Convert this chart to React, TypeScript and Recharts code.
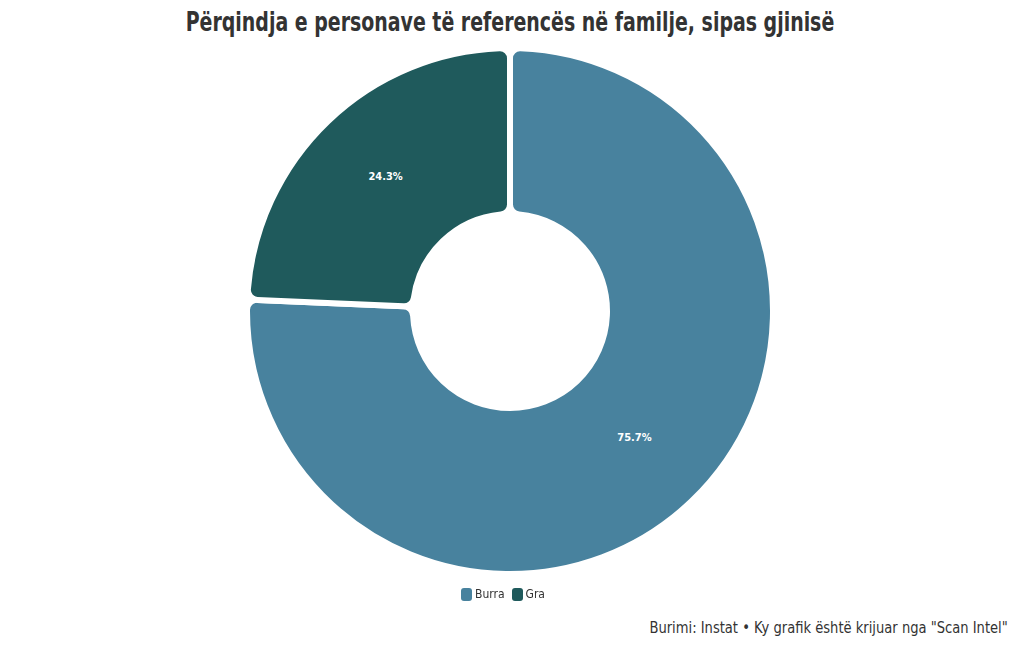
import React from "react";
import { PieChart, Pie, Cell } from "recharts";

const categories = ["Burra", "Gra"];
const values = [75.7, 24.3];
const colors = ["#48829E", "#1F5A5C"];
const titleText = "Përqindja e personave të referencës në familje, sipas gjinisë";
const footerText = 'Burimi: Instat • Ky grafik është krijuar nga "Scan Intel"';

const data = categories.map((name, i) => ({ name, value: values[i] }));

const FONT = '"DejaVu Sans Condensed", "Roboto", sans-serif';
const RAD = Math.PI / 180;

const renderLabel = (props: any) => {
  const { cx, cy, midAngle, innerRadius, outerRadius, value } = props;
  const r = (innerRadius + outerRadius) / 2;
  const x = cx + r * Math.cos(-midAngle * RAD);
  const y = cy + r * Math.sin(-midAngle * RAD) - 4;
  return (
    <text x={x} y={y} fill="#ffffff" textAnchor="middle" dominantBaseline="central"
      fontFamily={FONT} fontSize={11} fontWeight="bold">
      {value.toFixed(1)}%
    </text>
  );
};

export default function App() {
  return (
    <div style={{ position: "fixed", left: 0, top: 0, width: 1020, height: 650, background: "#fff", fontFamily: FONT }}>
      <div style={{ position: "absolute", top: 6, left: 0, width: 1020, textAlign: "center", fontSize: 27, fontWeight: "bold", color: "#333", transform: "scaleX(0.78)", transformOrigin: "510px 0" }}>
        {titleText}
      </div>
      <div style={{ position: "absolute", top: 0, left: 0 }}>
        <PieChart width={1020} height={650} margin={{ top: 0, right: 0, bottom: 0, left: 0 }}>
          <Pie
            data={data}
            dataKey="value"
            nameKey="name"
            cx={510}
            cy={311}
            innerRadius={97}
            outerRadius={263}
            startAngle={90}
            endAngle={-270}
            cornerRadius={10}
            stroke="#ffffff"
            strokeWidth={6}
            label={renderLabel}
            labelLine={false}
            isAnimationActive={false}
          >
            {data.map((d, i) => (
              <Cell key={d.name} fill={colors[i]} />
            ))}
          </Pie>
        </PieChart>
      </div>
      <div style={{ position: "absolute", top: 587, left: -7, width: 1020, display: "flex", justifyContent: "center", gap: 7, fontSize: 12, color: "#333" }}>
        {categories.map((c, i) => (
          <div key={c} style={{ display: "flex", alignItems: "center", gap: 3 }}>
            <span style={{ display: "inline-block", width: 11, height: 13, borderRadius: 3, background: colors[i] }} />
            <span>{c}</span>
          </div>
        ))}
      </div>
      <div style={{ position: "absolute", top: 618, right: 12, fontSize: 16, color: "#333", transform: "scaleX(0.91)", transformOrigin: "100% 0", whiteSpace: "nowrap" }}>
        {footerText}
      </div>
    </div>
  );
}
